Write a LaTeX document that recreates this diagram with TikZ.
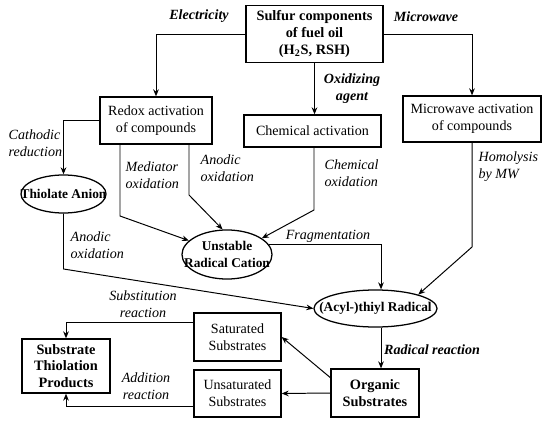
\documentclass[tikz,border=0pt]{standalone}
\usepackage{fontspec}
\setmainfont{Liberation Serif}
\usetikzlibrary{arrows.meta,shapes.geometric}

% keeps the oval labels from widening their ellipses
\newcommand{\squeeze}[1]{\makebox[0pt]{#1}}

\begin{document}
\begin{tikzpicture}[x=0.025cm,y=-0.025cm,>={Stealth[length=5pt,width=4pt]},
  font=\fontsize{10pt}{12pt}\selectfont,
  box/.style={draw,line width=0.9pt,align=center,inner sep=1pt},
  bbox/.style={box,font=\fontsize{10.2pt}{12pt}\selectfont\bfseries},
  oval/.style={draw,ellipse,line width=0.9pt,inner sep=0pt,align=center,
    font=\fontsize{9.5pt}{11.5pt}\selectfont\bfseries},
  lbl/.style={inner sep=1pt,align=left,
    font=\fontsize{10pt}{12pt}\selectfont\itshape},
  blbl/.style={lbl,font=\fontsize{10pt}{12pt}\selectfont\bfseries\itshape},
  arr/.style={->,line width=0.7pt}]
  \useasboundingbox (0,0) rectangle (550,425);

  % Sources and activation routes
  \node[bbox,minimum width=3.425cm,minimum height=1.425cm] (sulfur)
    at (314.5,34) {Sulfur components\\of fuel oil\\(H\textsubscript{2}S, RSH)};
  \node[box,minimum width=2.8cm,minimum height=1.175cm] (redox)
    at (156,120.5) {Redox activation\\of compounds};
  \node[box,minimum width=3.425cm,minimum height=0.8cm] (chem)
    at (312.5,131) {Chemical activation};
  \node[box,minimum width=3.45cm,minimum height=1.15cm] (micro)
    at (472,119) {Microwave activation\\of compounds};

  % Intermediates
  \node[oval,minimum width=2.125cm,minimum height=0.95cm] (thiolate)
    at (63.5,194) {\squeeze{Thiolate Anion}};
  \node[oval,minimum width=2.25cm,minimum height=1.225cm] (cation)
    at (227,254.5) {\squeeze{Unstable}\\\squeeze{Radical Cation}};
  \node[oval,minimum width=3.075cm,minimum height=0.925cm] (acyl)
    at (375.5,308.5) {\squeeze{(Acyl-)thiyl Radical}};

  % Substrates and products
  \node[bbox,minimum width=2.2cm,minimum height=1.2cm] (organic)
    at (375,393) {Organic\\Substrates};
  \node[box,minimum width=2.175cm,minimum height=1.2cm] (saturated)
    at (237.5,337) {Saturated\\Substrates};
  \node[box,minimum width=2.175cm,minimum height=1.175cm] (unsaturated)
    at (237.5,393.5) {Unsaturated\\Substrates};
  \node[bbox,minimum width=2.2cm,minimum height=1.35cm] (products)
    at (66,366) {Substrate\\Thiolation\\Products};

  % Edge labels
  \node[blbl] (eleclbl) at (199,16) {Electricity};
  \node[blbl] (mwlbl) at (426,17) {Microwave};
  \node[blbl,align=center] (oxlbl) at (352,89) {Oxidizing\\agent};
  \node[lbl,anchor=west] (cathlbl) at (7,143) {Cathodic\\reduction};
  \node[lbl,anchor=west] (medlbl) at (124,175) {Mediator\\oxidation};
  \node[lbl,anchor=west] (anolbl) at (199,168) {Anodic\\oxidation};
  \node[lbl,anchor=west] (chemlbl) at (323,173) {Chemical\\oxidation};
  \node[lbl,anchor=west] (homlbl) at (477,167) {Homolysis\\by MW};
  \node[lbl] (fraglbl) at (328,236) {Fragmentation};
  \node[lbl,anchor=west] (anolbl2) at (69,245) {Anodic\\oxidation};
  \node[lbl,align=center] (sublbl) at (143,304) {Substitution\\reaction};
  \node[lbl,align=center] (addlbl) at (146,386) {Addition\\reaction};
  \node[blbl] (radlbl) at (432,350) {Radical reaction};

  % Bends
  \coordinate (medkink) at (120,216);
  \coordinate (anokink) at (189,195);
  \coordinate (chemkink) at (314,210);
  \coordinate (fragkink) at (381,245);
  \coordinate (mwkink) at (472,247);
  \coordinate (thkink) at (63.5,269);

  % Connectors
  \draw[arr] (sulfur.west) -| (redox.north);
  \draw[arr] (sulfur.south) -- (sulfur.south |- chem.north);
  \draw[arr] (sulfur.east) -| (micro.north);
  \draw[arr] (redox.west) -| (thiolate.north);
  \draw[arr] (redox.south -| medkink) -- (medkink) -- (cation.160);
  \draw[arr] (redox.south -| anokink) -- (anokink) -- (cation.100);
  \draw[arr] (chem.south -| chemkink) -- (chemkink) -- (cation.25);
  \draw[arr] (cation.13) -| (fragkink |- acyl.north);
  \draw[arr] (micro.south) -- (mwkink) -- (acyl.18);
  \draw[arr] (thiolate.south) -- (thkink) -- (acyl.west);
  \draw[arr] (acyl.south -| fragkink) -- (fragkink |- organic.north);
  \draw[arr] (organic.161) -- (saturated.east);
  \draw[arr] (organic.west) -- (unsaturated.east);
  \draw[arr] (saturated.162) -| (products.north);
  \draw[arr] (unsaturated.196) -| (products.south);
\end{tikzpicture}
\end{document}
